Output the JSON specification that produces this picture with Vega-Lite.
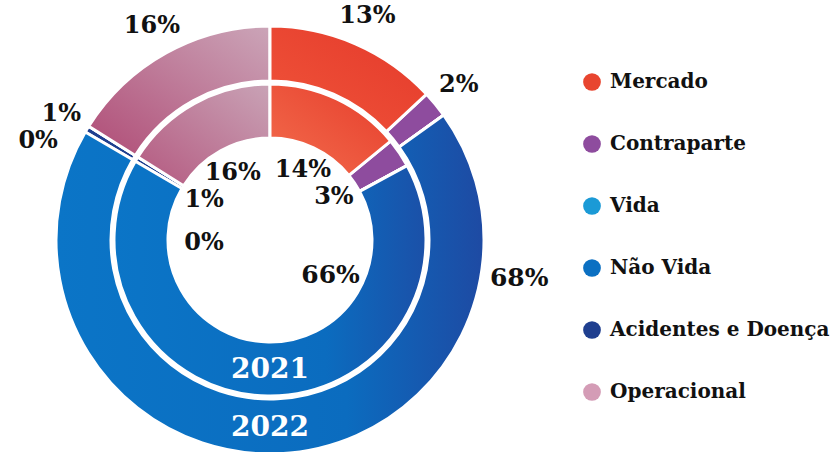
{
  "$schema": "https://vega.github.io/schema/vega-lite/v6.json",
  "width": 540,
  "height": 480,
  "padding": 0,
  "background": "white",
  "view": {"stroke": null},
  "config": {
    "text": {"font": "DejaVu Serif", "fontWeight": "bold", "align": "center", "baseline": "middle"}
  },
  "data": {
    "values": [
      {"ano": "2022", "categoria": "Mercado", "valor": 13, "rotulo": "13%", "ordem": 1},
      {"ano": "2022", "categoria": "Contraparte", "valor": 2, "rotulo": "2%", "ordem": 2},
      {"ano": "2022", "categoria": "Vida", "valor": 0, "rotulo": "0%", "ordem": 3},
      {"ano": "2022", "categoria": "Não Vida", "valor": 68, "rotulo": "68%", "ordem": 4},
      {"ano": "2022", "categoria": "Acidentes e Doença", "valor": 0.5, "rotulo": "1%", "ordem": 5},
      {"ano": "2022", "categoria": "Operacional", "valor": 16, "rotulo": "16%", "ordem": 6},
      {"ano": "2021", "categoria": "Mercado", "valor": 14, "rotulo": "14%", "ordem": 1},
      {"ano": "2021", "categoria": "Contraparte", "valor": 3, "rotulo": "3%", "ordem": 2},
      {"ano": "2021", "categoria": "Vida", "valor": 0, "rotulo": "0%", "ordem": 3},
      {"ano": "2021", "categoria": "Não Vida", "valor": 66, "rotulo": "66%", "ordem": 4},
      {"ano": "2021", "categoria": "Acidentes e Doença", "valor": 0.5, "rotulo": "1%", "ordem": 5},
      {"ano": "2021", "categoria": "Operacional", "valor": 16, "rotulo": "16%", "ordem": 6}
    ]
  },
  "layer": [
    {
      "transform": [{"filter": "datum.ano === '2022'"}],
      "mark": {"type": "arc", "radius": 214, "radius2": 159, "stroke": "white", "strokeWidth": 3},
      "encoding": {
        "theta": {"field": "valor", "type": "quantitative", "stack": true},
        "order": {"field": "ordem", "type": "quantitative"},
        "color": {
          "field": "categoria",
          "type": "nominal",
          "scale": {
            "domain": ["Mercado", "Contraparte", "Vida", "Não Vida", "Acidentes e Doença", "Operacional"],
            "range": ["#e8452f", "#8e4c9e", "#1b9ad6", "#0b70c2", "#1f3f8f", "#d49cb6"]
          },
          "legend": {
            "title": null,
            "orient": "none",
            "legendX": 582,
            "legendY": 72,
            "padding": 0,
            "symbolType": "circle",
            "symbolSize": 314,
            "symbolStrokeWidth": 0,
            "labelFont": "DejaVu Serif",
            "labelFontWeight": "bold",
            "labelFontSize": 20,
            "labelColor": "#111111",
            "labelOffset": 8,
            "rowPadding": 42,
            "labelLimit": 300
          }
        }
      }
    },
    {
      "transform": [{"filter": "datum.ano === '2021'"}],
      "mark": {"type": "arc", "radius": 156, "radius2": 102, "stroke": "white", "strokeWidth": 3},
      "encoding": {
        "theta": {"field": "valor", "type": "quantitative", "stack": true},
        "order": {"field": "ordem", "type": "quantitative"},
        "color": {"field": "categoria", "type": "nominal"}
      }
    },
    {
      "transform": [{"filter": "datum.ano === '2022'"}],
      "mark": {"type": "arc", "radius": 214, "radius2": 159, "stroke": "white", "strokeWidth": 3,
        "color": {"gradient": "linear", "x1": 0, "y1": 0.5, "x2": 1, "y2": 0.5,
          "stops": [{"offset": 0, "color": "#0b75c7"}, {"offset": 0.68, "color": "#0b6cbf"}, {"offset": 1, "color": "#1e4aa3"}]}},
      "encoding": {
        "theta": {"field": "valor", "type": "quantitative", "stack": true},
        "order": {"field": "ordem", "type": "quantitative"},
        "opacity": {"condition": {"test": "datum.categoria !== 'Não Vida'", "value": 0}, "value": 1}
      }
    },
    {
      "transform": [{"filter": "datum.ano === '2021'"}],
      "mark": {"type": "arc", "radius": 156, "radius2": 102, "stroke": "white", "strokeWidth": 3,
        "color": {"gradient": "linear", "x1": 0, "y1": 0.5, "x2": 1, "y2": 0.5,
          "stops": [{"offset": 0, "color": "#0b75c7"}, {"offset": 0.68, "color": "#0b6cbf"}, {"offset": 1, "color": "#1b50a8"}]}},
      "encoding": {
        "theta": {"field": "valor", "type": "quantitative", "stack": true},
        "order": {"field": "ordem", "type": "quantitative"},
        "opacity": {"condition": {"test": "datum.categoria !== 'Não Vida'", "value": 0}, "value": 1}
      }
    },
    {
      "transform": [{"filter": "datum.ano === '2022'"}],
      "mark": {"type": "arc", "radius": 214, "radius2": 159, "stroke": "white", "strokeWidth": 3,
        "color": {"gradient": "linear", "x1": 0, "y1": 1, "x2": 1, "y2": 0,
          "stops": [{"offset": 0, "color": "#b04c76"}, {"offset": 1, "color": "#cba5b8"}]}},
      "encoding": {
        "theta": {"field": "valor", "type": "quantitative", "stack": true},
        "order": {"field": "ordem", "type": "quantitative"},
        "opacity": {"condition": {"test": "datum.categoria !== 'Operacional'", "value": 0}, "value": 1}
      }
    },
    {
      "transform": [{"filter": "datum.ano === '2021'"}],
      "mark": {"type": "arc", "radius": 156, "radius2": 102, "stroke": "white", "strokeWidth": 3,
        "color": {"gradient": "linear", "x1": 0, "y1": 1, "x2": 1, "y2": 0,
          "stops": [{"offset": 0, "color": "#b4587f"}, {"offset": 1, "color": "#c9a3b6"}]}},
      "encoding": {
        "theta": {"field": "valor", "type": "quantitative", "stack": true},
        "order": {"field": "ordem", "type": "quantitative"},
        "opacity": {"condition": {"test": "datum.categoria !== 'Operacional'", "value": 0}, "value": 1}
      }
    },
    {
      "transform": [{"filter": "datum.ano === '2022'"}],
      "mark": {"type": "arc", "radius": 214, "radius2": 159, "stroke": "white", "strokeWidth": 3,
        "color": {"gradient": "linear", "x1": 0, "y1": 1, "x2": 1, "y2": 0,
          "stops": [{"offset": 0, "color": "#f0553a"}, {"offset": 1, "color": "#e4392b"}]}},
      "encoding": {
        "theta": {"field": "valor", "type": "quantitative", "stack": true},
        "order": {"field": "ordem", "type": "quantitative"},
        "opacity": {"condition": {"test": "datum.categoria !== 'Mercado'", "value": 0}, "value": 1}
      }
    },
    {
      "transform": [{"filter": "datum.ano === '2021'"}],
      "mark": {"type": "arc", "radius": 156, "radius2": 102, "stroke": "white", "strokeWidth": 3,
        "color": {"gradient": "linear", "x1": 0, "y1": 1, "x2": 1, "y2": 0,
          "stops": [{"offset": 0, "color": "#f36d4d"}, {"offset": 1, "color": "#e63d2c"}]}},
      "encoding": {
        "theta": {"field": "valor", "type": "quantitative", "stack": true},
        "order": {"field": "ordem", "type": "quantitative"},
        "opacity": {"condition": {"test": "datum.categoria !== 'Mercado'", "value": 0}, "value": 1}
      }
    },
    {
      "transform": [{"filter": "datum.ano === '2022'"}],
      "mark": {"type": "text", "radius": 244, "fontSize": 24, "color": "#111111"},
      "encoding": {
        "theta": {"field": "valor", "type": "quantitative", "stack": true},
        "order": {"field": "ordem", "type": "quantitative"},
        "text": {"field": "rotulo"},
        "opacity": {"condition": {"test": "datum.categoria === 'Não Vida' || datum.categoria === 'Vida'", "value": 0}, "value": 1}
      }
    },
    {
      "transform": [{"filter": "datum.ano === '2021'"}],
      "mark": {"type": "text", "radius": 77, "fontSize": 24, "color": "#111111"},
      "encoding": {
        "theta": {"field": "valor", "type": "quantitative", "stack": true},
        "order": {"field": "ordem", "type": "quantitative"},
        "text": {"field": "rotulo"},
        "opacity": {"condition": {"test": "datum.categoria === 'Não Vida' || datum.categoria === 'Vida'", "value": 0}, "value": 1}
      }
    },
    {
      "transform": [{"filter": "datum.ano === '2022' && datum.categoria === 'Não Vida'"}],
      "mark": {"type": "text", "radius": 252, "fontSize": 25, "color": "#111111"},
      "encoding": {"theta": {"datum": 27.25, "type": "quantitative"}, "text": {"field": "rotulo"}}
    },
    {
      "transform": [{"filter": "datum.ano === '2021' && datum.categoria === 'Não Vida'"}],
      "mark": {"type": "text", "radius": 70, "fontSize": 25, "color": "#111111"},
      "encoding": {"theta": {"datum": 33.2, "type": "quantitative"}, "text": {"field": "rotulo"}}
    },
    {
      "transform": [{"filter": "datum.ano === '2022' && datum.categoria === 'Vida'"}],
      "mark": {"type": "text", "radius": 252, "fontSize": 24, "color": "#111111"},
      "encoding": {"theta": {"datum": 81.0, "type": "quantitative"}, "text": {"field": "rotulo"}}
    },
    {
      "transform": [{"filter": "datum.ano === '2021' && datum.categoria === 'Vida'"}],
      "mark": {"type": "text", "radius": 66, "fontSize": 24, "color": "#111111"},
      "encoding": {"theta": {"datum": 73.8, "type": "quantitative"}, "text": {"field": "rotulo"}}
    },
    {
      "transform": [{"filter": "datum.ordem === 1"}],
      "mark": {"type": "text", "fontSize": 28, "color": "white"},
      "encoding": {
        "theta": {"datum": 49.75, "type": "quantitative"},
        "radius": {"field": "ano", "type": "ordinal", "scale": {"domain": ["2021", "2022"], "range": [130, 188]}},
        "text": {"field": "ano"}
      }
    }
  ]
}
